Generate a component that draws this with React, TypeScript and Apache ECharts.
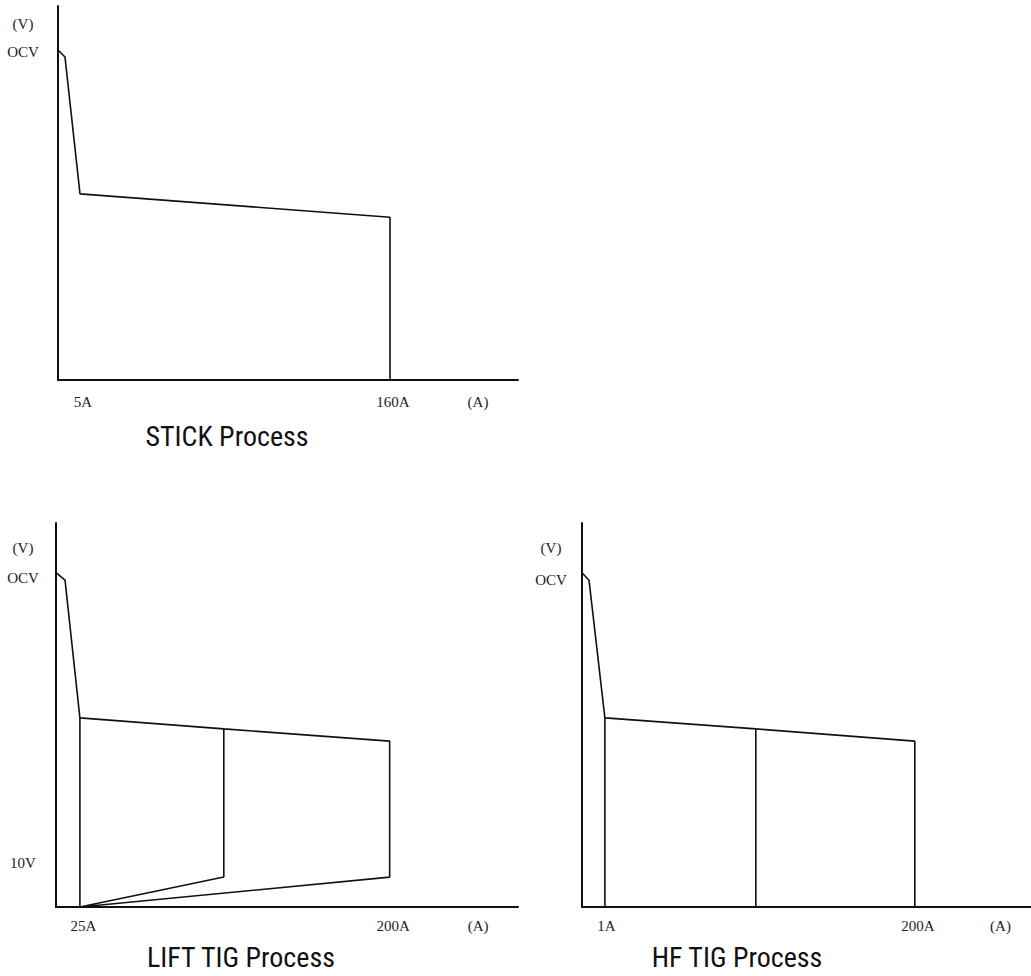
import React, { useEffect, useRef } from "react";
import * as echarts from "echarts";

// ---- STICK process (top) ----
const stickCurve: [number, number][] = [[-6, 75], [-2.5, 73.4], [5, 42.3], [160, 37], [160, 0]];
const stickXTicks = [6.5, 161.5, 204];
const stickXTickLabels = ["5A", "160A", "(A)"];
const stickYTicks = [74.5, 81];
const stickYTickLabels = ["OCV", "(V)"];

// ---- LIFT TIG process (bottom left) ----
const liftOutline: [number, number][] = [
  [11.5, 76], [16.6, 74.3], [25, 43], [106.3, 40.5], [200, 37.7], [200, 6.8],
  [25, 0], [106.3, 6.8], [106.3, 40.5],
];
const liftKnee: [number, number][] = [[25, 43], [25, 0]];
const liftXTicks = [27, 202, 250];
const liftXTickLabels = ["25A", "200A", "(A)"];
const liftYTicks = [10, 74.8, 81.6];
const liftYTickLabels = ["10V", "OCV", "(V)"];

// ---- HF TIG process (bottom right) ----
const hfOutline: [number, number][] = [[-13.7, 76], [-9.2, 74.3], [1, 43], [97.9, 40.5], [200, 37.7], [200, 0]];
const hfKnee: [number, number][] = [[1, 43], [1, 0]];
const hfMid: [number, number][] = [[97.9, 40.5], [97.9, 0]];
const hfXTicks = [2, 202, 255];
const hfXTickLabels = ["1A", "200A", "(A)"];
const hfYTicks = [74.3, 81.6];
const hfYTickLabels = ["OCV", "(V)"];

const titles = ["STICK Process", "LIFT TIG Process", "HF TIG Process"];

const SERIF = "'Liberation Serif', 'Times New Roman', serif";
const NARROW = "'Liberation Sans Narrow', 'Arial Narrow', 'Roboto Condensed', 'DejaVu Sans Condensed', sans-serif";
const INK = "#111";

function lookup(ticks: number[], labels: string[]) {
  return (v: number) => {
    let best = 0;
    for (let i = 0; i < ticks.length; i++) {
      if (Math.abs(ticks[i] - v) < Math.abs(ticks[best] - v)) best = i;
    }
    return labels[best];
  };
}

function xAxis(gridIndex: number, min: number, max: number, ticks: number[], labels: string[], margin: number) {
  return {
    type: "value",
    gridIndex,
    min,
    max,
    axisLine: { show: true, onZero: false, lineStyle: { color: INK, width: 2 } },
    axisTick: { show: false },
    splitLine: { show: false },
    axisLabel: {
      customValues: ticks,
      formatter: lookup(ticks, labels),
      fontFamily: SERIF,
      fontSize: 15,
      color: "#222",
      margin,
      hideOverlap: false,
    },
  };
}

function yAxis(gridIndex: number, max: number, ticks: number[], labels: string[], margin: number) {
  return {
    type: "value",
    gridIndex,
    min: 0,
    max,
    axisLine: { show: true, onZero: false, lineStyle: { color: INK, width: 2 } },
    axisTick: { show: false },
    splitLine: { show: false },
    axisLabel: {
      customValues: ticks,
      formatter: lookup(ticks, labels),
      fontFamily: SERIF,
      fontSize: 15,
      color: "#222",
      margin,
      align: "center",
      hideOverlap: false,
    },
  };
}

function line(idx: number, data: [number, number][]) {
  return {
    type: "line",
    xAxisIndex: idx,
    yAxisIndex: idx,
    data,
    symbol: "none",
    silent: true,
    clip: false,
    lineStyle: { color: INK, width: 1.6 },
  };
}

export default function App() {
  const ref = useRef<HTMLDivElement>(null);
  useEffect(() => {
    if (!ref.current) return;
    const chart = echarts.init(ref.current, undefined, { renderer: "svg" });
    chart.setOption({
      animation: false,
      backgroundColor: "#fff",
      grid: [
        { left: 58, top: 6, width: 460, height: 374 },
        { left: 56, top: 523, width: 462, height: 384 },
        { left: 582, top: 523, width: 449, height: 384 },
      ],
      xAxis: [
        xAxis(0, -6, 224, stickXTicks, stickXTickLabels, 14),
        xAxis(1, 11.5, 272.5, liftXTicks, liftXTickLabels, 11),
        xAxis(2, -13.7, 274.6, hfXTicks, hfXTickLabels, 11),
      ],
      yAxis: [
        yAxis(0, 85, stickYTicks, stickYTickLabels, 35),
        yAxis(1, 87.3, liftYTicks, liftYTickLabels, 33),
        yAxis(2, 87.3, hfYTicks, hfYTickLabels, 31),
      ],
      series: [
        line(0, stickCurve),
        line(1, liftOutline),
        line(1, liftKnee),
        line(2, hfOutline),
        line(2, hfKnee),
        line(2, hfMid),
      ],
      graphic: [
        { type: "text", x: 227, y: 436, style: { text: titles[0], fontSize: 28, fontFamily: NARROW, fill: INK, align: "center", verticalAlign: "middle" } },
        { type: "text", x: 241, y: 957, style: { text: titles[1], fontSize: 28, fontFamily: NARROW, fill: INK, align: "center", verticalAlign: "middle" } },
        { type: "text", x: 737, y: 957, style: { text: titles[2], fontSize: 28, fontFamily: NARROW, fill: INK, align: "center", verticalAlign: "middle" } },
      ],
    });
    return () => chart.dispose();
  }, []);
  return (
    <div
      ref={ref}
      style={{ position: "fixed", left: 0, top: 0, width: 1031, height: 976, background: "#fff" }}
    />
  );
}
